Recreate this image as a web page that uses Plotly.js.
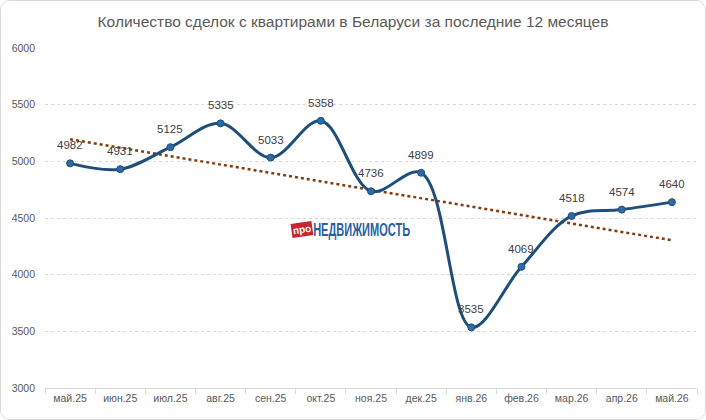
<!DOCTYPE html>
<html><head><meta charset="utf-8">
<script src="https://cdn.plot.ly/plotly-3.0.1.min.js"></script>
<style>
html,body{margin:0;padding:0;background:#fff;}
#chart{width:704px;height:418px;border:1px solid #d9d9d9;border-radius:10px;overflow:hidden;}
</style></head>
<body><div id="chart"></div>
<script>
var months = ["май.25","июн.25","июл.25","авг.25","сен.25","окт.25","ноя.25","дек.25","янв.26","фев.26","мар.26","апр.26","май.26"];
var deals = [4982,4931,5125,5335,5033,5358,4736,4899,3535,4069,4518,4574,4640];
var yTicks = [3000,3500,4000,4500,5000,5500,6000];

// linear trend (least squares) derived from the data
var n = deals.length, mx = (n-1)/2, my = deals.reduce(function(a,b){return a+b;},0)/n;
var sxy = 0, sxx = 0;
deals.forEach(function(v,i){ sxy += (i-mx)*(v-my); sxx += (i-mx)*(i-mx); });
var slope = sxy/sxx;
var trend = deals.map(function(v,i){ return my + slope*(i-mx); });

var traces = [
  {x: months, y: trend, type:'scatter', mode:'lines',
   line:{color:'#843c0c', width:2.5, dash:'dot'}, hoverinfo:'skip'},
  {x: months, y: deals, type:'scatter', mode:'lines+markers',
   line:{color:'#1f4e79', width:3, shape:'spline', smoothing:1},
   marker:{color:'#2e6aa6', size:7, line:{color:'#1f4e79', width:1}}}
];

var labelFont = {family:'Liberation Sans, Arial, sans-serif', size:11.5, color:'#404040'};
var annotations = months.map(function(m,i){
  return {x:m, y:deals[i], xref:'x', yref:'y', text:String(deals[i]), showarrow:false,
          xanchor:'center', yanchor:'middle', yshift:18, font:labelFont};
});
annotations.push(
  {xref:'paper', yref:'paper', x:0.394, y:0.465, xanchor:'center', yanchor:'middle',
   text:'<b>про</b>', showarrow:false, bgcolor:'#c8252c', borderpad:1, textangle:-8,
   font:{family:'Liberation Sans, Arial, sans-serif', size:10, color:'#ffffff'}},
  {xref:'paper', yref:'paper', x:0.485, y:0.465, xanchor:'center', yanchor:'middle',
   text:'<b>НЕДВИЖИМОСТЬ</b>', showarrow:false, name:'logo',
   font:{family:'Liberation Sans, Arial, sans-serif', size:19, color:'#2b5fa3'}}
);

var layout = {
  width:704, height:418,
  margin:{l:44, r:8, t:47, b:31},
  paper_bgcolor:'#fff', plot_bgcolor:'#fff',
  showlegend:false,
  title:{text:'Количество сделок с квартирами в Беларуси за последние 12 месяцев',
         x:0.5, xanchor:'center', y:0.95, yanchor:'middle',
         font:{family:'Liberation Sans, Arial, sans-serif', size:15.5, color:'#595959'}},
  xaxis:{type:'category', showgrid:false, showline:true, linecolor:'#d9d9d9', linewidth:1,
         ticks:'outside', tickson:'boundaries', ticklen:5, tickcolor:'#d9d9d9',
         tickfont:{family:'Liberation Sans, Arial, sans-serif', size:10.5, color:'#595959'},
         range:[-0.5, 12.5], fixedrange:true, zeroline:false},
  yaxis:{range:[3000,6000], tickvals:yTicks, ticktext:yTicks.map(String),
         showgrid:true, gridcolor:'#d9d9d9', griddash:'dot', gridwidth:1,
         showline:false, zeroline:false, ticks:'', ticklabelstandoff:9,
         tickfont:{family:'Liberation Sans, Arial, sans-serif', size:10.5, color:'#595959'}},
  annotations: annotations
};
Plotly.newPlot('chart', traces, layout, {displayModeBar:false, staticPlot:true}).then(function(gd){
  // compress the logo word horizontally (condensed look)
  var anns = gd.querySelectorAll('.annotation-text');
  anns.forEach(function(t){
    if (t.textContent === 'НЕДВИЖИМОСТЬ') {
      t.setAttribute('textLength', '97');
      t.setAttribute('lengthAdjust', 'spacingAndGlyphs');
    }
  });
});
</script></body></html>
